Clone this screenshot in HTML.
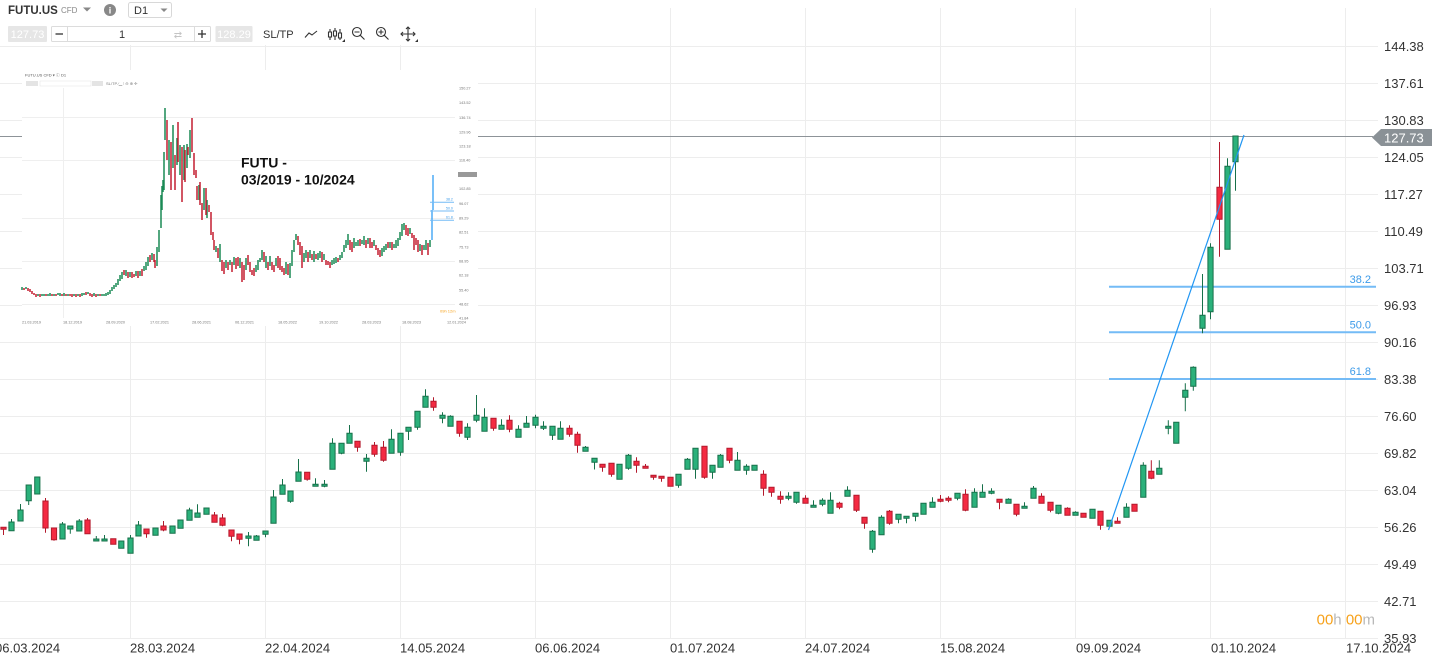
<!DOCTYPE html>
<html><head><meta charset="utf-8"><style>
html,body{margin:0;padding:0;background:#fff;width:1445px;height:660px;overflow:hidden}
svg{display:block;font-family:"Liberation Sans",Arial,sans-serif}
.gc path{fill:#2bb17b;stroke:#17704a;stroke-width:1}
.rc path{fill:#f42a42;stroke:#b3192c;stroke-width:1}
</style></head><body>
<svg width="1445" height="660" viewBox="0 0 1445 660" xmlns="http://www.w3.org/2000/svg">
<rect x="0" y="0" width="1445" height="660" fill="#fff"/>
<g stroke="#ededed" stroke-width="1">
<path d="M0 46.5H1378M0 83.5H1378M0 120.5H1378M0 157.5H1378M0 194.5H1378M0 231.5H1378M0 268.5H1378M0 305.5H1378M0 342.5H1378M0 379.5H1378M0 416.5H1378M0 453.5H1378M0 490.5H1378M0 527.5H1378M0 564.5H1378M0 601.5H1378M0 638.5H1378"/>
<path d="M130.5 8V639M265.5 8V639M400.5 8V639M535.5 8V639M670.5 8V639M805.5 8V639M940.5 8V639M1075.5 8V639M1210.5 8V639M1345.5 8V639"/>
</g>
<g stroke="#74bbf6" stroke-width="2">
<path d="M1109 286.7H1376M1109 332.3H1376M1109 379H1376"/>
</g>
<g fill="#3d9be9" font-size="11" text-anchor="end">
<text x="1371" y="283">38.2</text>
<text x="1371" y="328.5">50.0</text>
<text x="1371" y="375">61.8</text>
</g>
<path d="M0 136.5H1373" stroke="#8d9398" stroke-width="1"/>
<g class="rc">
<path transform="translate(3.5)" d="M0 527.3V527.3M0 529.3V535M-2.6 527.3h5.2V529.3h-5.2Z"/>
<path transform="translate(45.5)" d="M0 498V501M0 528V532.7M-2.6 501h5.2V528h-5.2Z"/>
<path transform="translate(54)" d="M0 539.7V540.7M-2.6 528h5.2V539.7h-5.2Z"/>
<path transform="translate(87.5)" d="M0 518V520M-2.6 520h5.2V533.7h-5.2Z"/>
<path transform="translate(113.3)" d="M-2.6 538.7h5.2V544.3h-5.2Z"/>
<path transform="translate(146.5)" d="M0 533.7V537.7M-2.6 529h5.2V533.7h-5.2Z"/>
<path transform="translate(163.5)" d="M0 521V526M0 530V531.3M-2.6 526h5.2V530h-5.2Z"/>
<path transform="translate(214.5)" d="M0 512V515M-2.6 515h5.2V522.3h-5.2Z"/>
<path transform="translate(222.5)" d="M0 514V518M0 525.3V526.3M-2.6 518h5.2V525.3h-5.2Z"/>
<path transform="translate(231.5)" d="M0 536.3V541.3M-2.6 530h5.2V536.3h-5.2Z"/>
<path transform="translate(239.5)" d="M0 539.3V544.3M-2.6 534h5.2V539.3h-5.2Z"/>
<path transform="translate(307.2)" d="M0 479.3V480.7M-2.6 472.3h5.2V479.3h-5.2Z"/>
<path transform="translate(357.5)" d="M0 447.3V451.7M-2.6 441.3h5.2V447.3h-5.2Z"/>
<path transform="translate(374.5)" d="M0 442V445.3M0 454.3V456.7M-2.6 445.3h5.2V454.3h-5.2Z"/>
<path transform="translate(383.5)" d="M0 441V447.3M0 460.3V461.7M-2.6 447.3h5.2V460.3h-5.2Z"/>
<path transform="translate(433.5)" d="M0 397.3V401.3M0 407.3V410.7M-2.6 401.3h5.2V407.3h-5.2Z"/>
<path transform="translate(459.5)" d="M0 433.3V436.7M-2.6 421.3h5.2V433.3h-5.2Z"/>
<path transform="translate(493.5)" d="M0 428.3V430.7M-2.6 418.3h5.2V428.3h-5.2Z"/>
<path transform="translate(509.5)" d="M0 415.3V420.3M0 429.3V432.3M-2.6 420.3h5.2V429.3h-5.2Z"/>
<path transform="translate(569.5)" d="M0 425.3V428.3M0 434.3V436.7M-2.6 428.3h5.2V434.3h-5.2Z"/>
<path transform="translate(577.5)" d="M0 431.7V434.3M0 445.3V452.7M-2.6 434.3h5.2V445.3h-5.2Z"/>
<path transform="translate(602.5)" d="M0 467.3V471.7M-2.6 464.3h5.2V467.3h-5.2Z"/>
<path transform="translate(611.5)" d="M0 474.3V476.7M-2.6 463.3h5.2V474.3h-5.2Z"/>
<path transform="translate(636.5)" d="M0 457.3V461.3M0 465.3V472.7M-2.6 461.3h5.2V465.3h-5.2Z"/>
<path transform="translate(645.5)" d="M0 464V466.3M-2.6 466.3h5.2V468.3h-5.2Z"/>
<path transform="translate(653.5)" d="M0 477.3V479.7M-2.6 475.3h5.2V477.3h-5.2Z"/>
<path transform="translate(661.5)" d="M0 478.3V481.7M-2.6 476.3h5.2V478.3h-5.2Z"/>
<path transform="translate(670.5)" d="M-2.6 477.3h5.2V486.3h-5.2Z"/>
<path transform="translate(704.5)" d="M0 477.3V478.7M-2.6 446.3h5.2V477.3h-5.2Z"/>
<path transform="translate(729.5)" d="M0 460.3V463.3M-2.6 448.3h5.2V460.3h-5.2Z"/>
<path transform="translate(763.5)" d="M0 470.3V474.3M0 488.3V495.7M-2.6 474.3h5.2V488.3h-5.2Z"/>
<path transform="translate(771.5)" d="M0 492.3V496.7M-2.6 487.3h5.2V492.3h-5.2Z"/>
<path transform="translate(780.5)" d="M0 491.3V496.3M0 499.3V503.7M-2.6 496.3h5.2V499.3h-5.2Z"/>
<path transform="translate(805.5)" d="M0 495.3V498.3M-2.6 498.3h5.2V503.3h-5.2Z"/>
<path transform="translate(839.5)" d="M0 501.7V503.3M0 507.3V509.3M-2.6 503.3h5.2V507.3h-5.2Z"/>
<path transform="translate(856.5)" d="M0 510.3V512M-2.6 495.3h5.2V510.3h-5.2Z"/>
<path transform="translate(864.5)" d="M0 523.3V528.7M-2.6 517.3h5.2V523.3h-5.2Z"/>
<path transform="translate(889.5)" d="M0 510V511.3M0 523.3V524.7M-2.6 511.3h5.2V523.3h-5.2Z"/>
<path transform="translate(940.5)" d="M0 495V499.3M0 501.3V502.3M-2.6 499.3h5.2V501.3h-5.2Z"/>
<path transform="translate(948.5)" d="M0 496.3V498.3M0 500.3V502.3M-2.6 498.3h5.2V500.3h-5.2Z"/>
<path transform="translate(965.5)" d="M0 489.3V494.3M0 510.3V511.3M-2.6 494.3h5.2V510.3h-5.2Z"/>
<path transform="translate(999.5)" d="M0 502.3V509.3M-2.6 499.3h5.2V502.3h-5.2Z"/>
<path transform="translate(1016.5)" d="M0 514.3V516.3M-2.6 504.3h5.2V514.3h-5.2Z"/>
<path transform="translate(1041.5)" d="M0 493.3V496.3M-2.6 496.3h5.2V503.3h-5.2Z"/>
<path transform="translate(1050.5)" d="M0 510.3V512.3M-2.6 502.3h5.2V510.3h-5.2Z"/>
<path transform="translate(1067.5)" d="M0 507.3V508.3M-2.6 508.3h5.2V515.3h-5.2Z"/>
<path transform="translate(1083.5)" d="M-2.6 513.3h5.2V517.3h-5.2Z"/>
<path transform="translate(1100.5)" d="M0 525.3V529.7M-2.6 511.3h5.2V525.3h-5.2Z"/>
<path transform="translate(1117.5)" d="M0 517.3V521.3M-2.6 521.3h5.2V523.3h-5.2Z"/>
<path transform="translate(1134.5)" d="M-2.6 504.3h5.2V511.3h-5.2Z"/>
<path transform="translate(1151.3)" d="M0 460.3V471.3M0 478.3V479.3M-2.6 471.3h5.2V478.3h-5.2Z"/>
<path transform="translate(1219.5)" d="M0 142V187.3M0 219.3V256.7M-2.6 187.3h5.2V219.3h-5.2Z"/>
</g>
<g class="gc">
<path transform="translate(11.5)" d="M0 519V522M-2.6 522h5.2V530.7h-5.2Z"/>
<path transform="translate(20.5)" d="M0 504V510M-2.6 510h5.2V521h-5.2Z"/>
<path transform="translate(28.7)" d="M0 500.7V505M-2.6 485h5.2V500.7h-5.2Z"/>
<path transform="translate(37.3)" d="M-2.6 477h5.2V494h-5.2Z"/>
<path transform="translate(62.5)" d="M0 522V524M-2.6 524h5.2V539h-5.2Z"/>
<path transform="translate(70.3)" d="M0 529V533.7M-2.6 526h5.2V529h-5.2Z"/>
<path transform="translate(79.3)" d="M0 519V521M-2.6 521h5.2V531h-5.2Z"/>
<path transform="translate(96.3)" d="M0 536V539M-2.6 539h5.2V541h-5.2Z"/>
<path transform="translate(104.5)" d="M0 535V539M-2.6 539h5.2V541h-5.2Z"/>
<path transform="translate(121.3)" d="M-2.6 541h5.2V548.3h-5.2Z"/>
<path transform="translate(130.5)" d="M0 535V538M-2.6 538h5.2V553.3h-5.2Z"/>
<path transform="translate(138.5)" d="M0 521V525M-2.6 525h5.2V536h-5.2Z"/>
<path transform="translate(155.5)" d="M-2.6 528h5.2V535.3h-5.2Z"/>
<path transform="translate(172.5)" d="M-2.6 526h5.2V533.3h-5.2Z"/>
<path transform="translate(180.5)" d="M-2.6 520h5.2V528.3h-5.2Z"/>
<path transform="translate(189.5)" d="M0 507.7V510M-2.6 510h5.2V520.3h-5.2Z"/>
<path transform="translate(197.5)" d="M0 504.3V513M-2.6 513h5.2V517.3h-5.2Z"/>
<path transform="translate(206.5)" d="M-2.6 508h5.2V514.3h-5.2Z"/>
<path transform="translate(248.5)" d="M0 532V536M0 538.3V546.3M-2.6 536h5.2V538.3h-5.2Z"/>
<path transform="translate(256.5)" d="M0 535V536M-2.6 536h5.2V540.3h-5.2Z"/>
<path transform="translate(265.5)" d="M0 534.3V537.3M-2.6 531h5.2V534.3h-5.2Z"/>
<path transform="translate(273.5)" d="M0 490V497M-2.6 497h5.2V523.3h-5.2Z"/>
<path transform="translate(282.5)" d="M0 479V485M-2.6 485h5.2V494.3h-5.2Z"/>
<path transform="translate(290.5)" d="M0 501.3V502.7M-2.6 491h5.2V501.3h-5.2Z"/>
<path transform="translate(298.5)" d="M0 459V472M-2.6 472h5.2V481.3h-5.2Z"/>
<path transform="translate(315.5)" d="M0 478.3V484.3M-2.6 484.3h5.2V486.3h-5.2Z"/>
<path transform="translate(324.5)" d="M0 480V484.3M0 486.3V487.3M-2.6 484.3h5.2V486.3h-5.2Z"/>
<path transform="translate(332.5)" d="M0 438.3V443.3M-2.6 443.3h5.2V469.3h-5.2Z"/>
<path transform="translate(341.5)" d="M0 453.3V454.3M-2.6 443.3h5.2V453.3h-5.2Z"/>
<path transform="translate(349.5)" d="M0 425V433.3M-2.6 433.3h5.2V443.3h-5.2Z"/>
<path transform="translate(366.5)" d="M0 454V458.3M0 461.3V471.7M-2.6 458.3h5.2V461.3h-5.2Z"/>
<path transform="translate(391.5)" d="M0 429.3V439.3M-2.6 439.3h5.2V453.3h-5.2Z"/>
<path transform="translate(400.5)" d="M0 452.3V455.7M-2.6 433.3h5.2V452.3h-5.2Z"/>
<path transform="translate(408.5)" d="M0 431.3V440M-2.6 427.3h5.2V431.3h-5.2Z"/>
<path transform="translate(417.5)" d="M0 427.3V429.7M-2.6 411.3h5.2V427.3h-5.2Z"/>
<path transform="translate(425.5)" d="M0 389.3V396.3M-2.6 396.3h5.2V407.3h-5.2Z"/>
<path transform="translate(442.5)" d="M0 412.3V415.3M0 418.3V423.3M-2.6 415.3h5.2V418.3h-5.2Z"/>
<path transform="translate(450.5)" d="M0 415.3V416.3M-2.6 416.3h5.2V426.3h-5.2Z"/>
<path transform="translate(467.5)" d="M0 423.3V427.3M0 437.3V440M-2.6 427.3h5.2V437.3h-5.2Z"/>
<path transform="translate(476.5)" d="M0 395V415.3M0 420.3V422.3M-2.6 415.3h5.2V420.3h-5.2Z"/>
<path transform="translate(484.5)" d="M0 408.3V417.3M-2.6 417.3h5.2V431.3h-5.2Z"/>
<path transform="translate(501.5)" d="M0 419.3V425.3M-2.6 425.3h5.2V429.3h-5.2Z"/>
<path transform="translate(518.5)" d="M0 425.3V429.3M-2.6 429.3h5.2V437.3h-5.2Z"/>
<path transform="translate(526.5)" d="M0 416V423.3M-2.6 423.3h5.2V427.3h-5.2Z"/>
<path transform="translate(535.5)" d="M0 414.7V417.3M0 425.3V428.3M-2.6 417.3h5.2V425.3h-5.2Z"/>
<path transform="translate(543.5)" d="M0 421.3V426.3M0 428.3V430M-2.6 426.3h5.2V428.3h-5.2Z"/>
<path transform="translate(552.5)" d="M0 435.3V440M-2.6 426.3h5.2V435.3h-5.2Z"/>
<path transform="translate(560.5)" d="M0 421.3V428.3M-2.6 428.3h5.2V439.3h-5.2Z"/>
<path transform="translate(585.5)" d="M0 446V447.3M-2.6 447.3h5.2V451.3h-5.2Z"/>
<path transform="translate(594.5)" d="M0 462.3V469.5M-2.6 458.3h5.2V462.3h-5.2Z"/>
<path transform="translate(619.5)" d="M-2.6 464.3h5.2V479.3h-5.2Z"/>
<path transform="translate(628.5)" d="M0 454V455.3M0 468.3V469.7M-2.6 455.3h5.2V468.3h-5.2Z"/>
<path transform="translate(678.5)" d="M0 485.3V487.7M-2.6 474.3h5.2V485.3h-5.2Z"/>
<path transform="translate(687.5)" d="M0 458V459.3M-2.6 459.3h5.2V469.3h-5.2Z"/>
<path transform="translate(695.5)" d="M0 469.3V478.7M-2.6 448.3h5.2V469.3h-5.2Z"/>
<path transform="translate(712.5)" d="M0 472.3V478.7M-2.6 465.3h5.2V472.3h-5.2Z"/>
<path transform="translate(720.5)" d="M0 454V455.3M-2.6 455.3h5.2V467.3h-5.2Z"/>
<path transform="translate(737.5)" d="M0 452V460.3M-2.6 460.3h5.2V470.3h-5.2Z"/>
<path transform="translate(746.5)" d="M0 464.3V466.3M0 470.3V474.7M-2.6 466.3h5.2V470.3h-5.2Z"/>
<path transform="translate(754.5)" d="M-2.6 465.3h5.2V470.3h-5.2Z"/>
<path transform="translate(788.5)" d="M0 492.3V496.3M0 498.3V500.3M-2.6 496.3h5.2V498.3h-5.2Z"/>
<path transform="translate(796.5)" d="M0 502.3V503.7M-2.6 492.3h5.2V502.3h-5.2Z"/>
<path transform="translate(813.5)" d="M0 500.3V505.3M-2.6 505.3h5.2V507.3h-5.2Z"/>
<path transform="translate(822.5)" d="M0 498.3V500.3M0 504.3V506.3M-2.6 500.3h5.2V504.3h-5.2Z"/>
<path transform="translate(830.5)" d="M0 492.3V500.3M-2.6 500.3h5.2V513.3h-5.2Z"/>
<path transform="translate(847.5)" d="M0 486.3V490.3M-2.6 490.3h5.2V496.3h-5.2Z"/>
<path transform="translate(872.5)" d="M0 530V531.3M0 549.3V552.7M-2.6 531.3h5.2V549.3h-5.2Z"/>
<path transform="translate(881.5)" d="M0 515.3V517.3M-2.6 517.3h5.2V534.7h-5.2Z"/>
<path transform="translate(898.5)" d="M0 519.3V523.3M-2.6 514.3h5.2V519.3h-5.2Z"/>
<path transform="translate(906.5)" d="M0 518.3V523.3M-2.6 516.3h5.2V518.3h-5.2Z"/>
<path transform="translate(915.5)" d="M0 516.3V521.3M-2.6 513.3h5.2V516.3h-5.2Z"/>
<path transform="translate(923.5)" d="M-2.6 503.3h5.2V514.3h-5.2Z"/>
<path transform="translate(932.5)" d="M0 497.3V502.3M-2.6 502.3h5.2V507.3h-5.2Z"/>
<path transform="translate(957.5)" d="M0 498.3V500.3M-2.6 493.3h5.2V498.3h-5.2Z"/>
<path transform="translate(974.5)" d="M0 488.3V492.3M-2.6 492.3h5.2V507.3h-5.2Z"/>
<path transform="translate(982.5)" d="M0 484.3V492.3M-2.6 492.3h5.2V497.3h-5.2Z"/>
<path transform="translate(991.5)" d="M0 488.3V491.3M0 493.3V494.3M-2.6 491.3h5.2V493.3h-5.2Z"/>
<path transform="translate(1008.5)" d="M0 498.3V499.3M-2.6 499.3h5.2V503.3h-5.2Z"/>
<path transform="translate(1024.5)" d="M0 502.3V506.3M-2.6 506.3h5.2V508.3h-5.2Z"/>
<path transform="translate(1033.5)" d="M0 486V488.3M-2.6 488.3h5.2V498.3h-5.2Z"/>
<path transform="translate(1058.5)" d="M0 513.3V514.3M-2.6 505.3h5.2V513.3h-5.2Z"/>
<path transform="translate(1075.5)" d="M0 511.3V512.3M-2.6 512.3h5.2V515.3h-5.2Z"/>
<path transform="translate(1092.5)" d="M-2.6 509.3h5.2V518.3h-5.2Z"/>
<path transform="translate(1109.5)" d="M-2.6 520.3h5.2V526.3h-5.2Z"/>
<path transform="translate(1126.5)" d="M0 503.3V507.3M-2.6 507.3h5.2V517.3h-5.2Z"/>
<path transform="translate(1143.3)" d="M0 462.3V465.3M-2.6 465.3h5.2V497.3h-5.2Z"/>
<path transform="translate(1159.3)" d="M0 460.3V468.3M-2.6 468.3h5.2V474.3h-5.2Z"/>
<path transform="translate(1168.3)" d="M0 420.3V426.3M0 428.3V434.3M-2.6 426.3h5.2V428.3h-5.2Z"/>
<path transform="translate(1176.3)" d="M-2.6 422.3h5.2V443.3h-5.2Z"/>
<path transform="translate(1185.3)" d="M0 383.3V390.3M0 397.3V411.3M-2.6 390.3h5.2V397.3h-5.2Z"/>
<path transform="translate(1193.3)" d="M0 366.3V367.3M0 386.3V390.7M-2.6 367.3h5.2V386.3h-5.2Z"/>
<path transform="translate(1202.5)" d="M0 274V315.3M0 328.3V333.3M-2.6 315.3h5.2V328.3h-5.2Z"/>
<path transform="translate(1210.5)" d="M0 243.3V247.3M0 311.7V319.3M-2.6 247.3h5.2V311.7h-5.2Z"/>
<path transform="translate(1227.5)" d="M0 158.3V166.3M-2.6 166.3h5.2V249.3h-5.2Z"/>
<path transform="translate(1235.5)" d="M0 161.7V190.7M-2.6 136h5.2V161.7h-5.2Z"/>
</g>
<path d="M1108.5 530L1244 135" stroke="#2196f3" stroke-width="1.2" fill="none"/>

<!-- inset -->
<rect x="22" y="70" width="456" height="256" fill="#fff"/>
<g stroke="#efefef" stroke-width="1">
<path d="M22 117.5H455M22 160.5H455M22 218.5H455M22 261.5H455M22 304.5H455"/>
<path d="M63.5 88V318"/>
</g>
<g font-size="4" fill="#555">
<text x="25" y="76.5">FUTU.US CFD ▾ ⓘ  D1</text>
</g>
<rect x="26" y="81" width="12" height="5" fill="#e4e4e4"/>
<rect x="40" y="81" width="51" height="5" fill="none" stroke="#e2e2e2" stroke-width="0.5"/>
<rect x="92" y="81" width="11" height="5" fill="#e4e4e4"/>
<g font-size="4" fill="#777"><text x="106" y="85">SL/TP  ⁄‿  ⫶  ⊖ ⊕ ✢</text></g>
<path stroke="#1a8a55" stroke-width="1.5" fill="none" d="M22 287V290M26 287V289M38 294V296M42 294V296M44 294V296M48 294V296M50 293V296M54 294V296M58 293V295M60 293V296M64 293V296M68 294V296M74 294V296M78 294V296M82 293V296M84 293V295M88 292V294M94 293V296M98 294V296M102 294V296M104 294V296M106 293V296M108 292V295M110 290V294M112 287V291M114 285V289M116 283V287M118 279V285M120 275V281M122 272V279M126 270V276M130 272V277M136 271V276M140 271V276M144 266V271M146 262V270M148 257V266M152 253V260M157 247V266M159 230V252M161 195V228M162 186V210M163 180V192M164 152V190M165 108V140M169 140V175M173 125V168M177 138V165M180 145V175M184 145V180M187 144V168M190 130V158M199 185V200M204 188V210M207 200V218M216 246V252M220 244V262M226 260V268M230 260V265M234 257V265M240 258V268M246 258V270M256 265V272M258 260V270M260 258V262M262 250V260M266 256V268M270 256V266M276 258V266M286 262V274M290 263V278M292 250V266M294 240V252M296 234V240M304 253V262M306 250V258M310 250V258M314 251V262M318 253V260M320 251V258M324 254V260M332 260V265M334 258V264M336 257V263M340 255V260M342 252V258M344 245V252M346 240V248M348 234V245M354 238V248M356 242V246M358 240V246M362 240V244M364 236V245M368 238V244M374 240V246M382 248V256M384 246V252M386 244V250M390 242V248M394 244V248M396 240V248M398 238V246M400 232V240M402 224V236M404 223V230M410 228V234M420 244V251M424 245V250M426 240V250M430 240V247"/>
<path stroke="#c41e30" stroke-width="1.5" fill="none" d="M24 288V290M28 288V291M30 289V292M32 291V294M34 293V295M36 294V297M40 294V297M46 294V296M52 294V296M56 294V296M62 294V296M66 294V296M70 294V296M72 294V297M76 294V297M80 294V297M86 292V295M90 293V296M92 294V297M96 294V297M100 294V296M124 270V275M128 272V278M132 272V278M134 274V277M138 271V278M142 269V276M150 255V262M154 254V262M155 260V268M167 120V160M171 142V190M175 155V190M178 122V162M182 147V202M185 150V182M188 147V155M192 118V152M194 153V175M196 170V178M197 186V200M200 182V205M202 203V220M206 188V215M209 205V212M211 212V235M213 232V240M214 240V250M218 248V258M222 260V271M224 262V274M228 262V270M232 262V272M236 258V269M238 257V266M242 262V282M244 265V280M248 255V265M250 262V272M252 270V275M254 268V276M264 252V262M268 262V270M272 262V270M274 265V272M278 256V268M280 258V270M282 266V272M284 268V275M288 264V275M298 236V245M300 242V255M302 246V268M308 252V262M312 254V260M316 254V259M322 252V262M326 260V265M328 261V265M330 262V268M338 258V262M350 240V250M352 242V252M360 239V246M366 240V248M370 238V248M372 242V248M376 245V250M378 248V255M380 250V257M388 242V248M392 242V250M406 225V235M408 228V236M412 233V238M414 235V250M416 238V245M418 240V252M422 245V255M428 243V255"/>
<path stroke="#2196f3" stroke-width="1.2" fill="none" d="M432 210V240M433 175V210"/>
<path stroke="#74bbf6" stroke-width="1" d="M430 202.3H454M430 211H454M430 220.3H454"/>
<g font-size="3.5" fill="#3d9be9"><text x="446" y="200.5">38.2</text><text x="446" y="209.5">50.0</text><text x="446" y="218.5">61.8</text></g>
<rect x="458" y="172" width="19" height="5" fill="#999"/>
<g font-size="3.8" fill="#777">
<text x="459" y="89.5">150.27</text><text x="459" y="104">143.52</text><text x="459" y="119">136.74</text><text x="459" y="133.5">129.96</text><text x="459" y="147.5">123.18</text><text x="459" y="161.5">116.40</text><text x="459" y="190">102.85</text><text x="459" y="205">96.07</text><text x="459" y="219.5">89.29</text><text x="459" y="233.5">82.51</text><text x="459" y="248.5">75.73</text><text x="459" y="262.5">68.95</text><text x="459" y="276.5">62.18</text><text x="459" y="291.5">55.40</text><text x="459" y="305.5">48.62</text><text x="459" y="319.5">41.84</text>
</g>
<g font-size="3.8" fill="#777">
<text x="22" y="323.5">21.03.2019</text><text x="63" y="323.5">18.12.2019</text><text x="106" y="323.5">28.09.2020</text><text x="150" y="323.5">17.02.2021</text><text x="192" y="323.5">28.06.2021</text><text x="235" y="323.5">06.12.2021</text><text x="278" y="323.5">18.05.2022</text><text x="319" y="323.5">19.10.2022</text><text x="362" y="323.5">28.03.2023</text><text x="402" y="323.5">18.08.2023</text><text x="447" y="323.5">12.01.2024</text>
</g>
<g font-size="4" fill="#f7a21b"><text x="440" y="312.5">09h 12m</text></g>
<g font-family="Liberation Sans,Arial,sans-serif" font-weight="bold" font-size="14" fill="#111">
<text x="241" y="167.5">FUTU -</text>
<text x="241" y="184.5">03/2019 - 10/2024</text>
</g>

<!-- y axis labels -->
<g font-size="13" fill="#333">
<text x="1384" y="51">144.38</text>
<text x="1384" y="88">137.61</text>
<text x="1384" y="125">130.83</text>
<text x="1384" y="162">124.05</text>
<text x="1384" y="199">117.27</text>
<text x="1384" y="236">110.49</text>
<text x="1384" y="273">103.71</text>
<text x="1384" y="310">96.93</text>
<text x="1384" y="347">90.16</text>
<text x="1384" y="384">83.38</text>
<text x="1384" y="421">76.60</text>
<text x="1384" y="458">69.82</text>
<text x="1384" y="495">63.04</text>
<text x="1384" y="532">56.26</text>
<text x="1384" y="569">49.49</text>
<text x="1384" y="606">42.71</text>
<text x="1384" y="643">35.93</text>
</g>
<path d="M1372 137.5L1381 129H1432V146H1381Z" fill="#8a9196"/>
<text x="1384" y="142.5" font-size="13" fill="#fff">127.73</text>
<!-- x axis labels -->
<g font-size="13" fill="#333">
<text x="-5" y="652.5">06.03.2024</text>
<text x="130" y="652.5">28.03.2024</text>
<text x="265" y="652.5">22.04.2024</text>
<text x="400" y="652.5">14.05.2024</text>
<text x="535" y="652.5">06.06.2024</text>
<text x="670" y="652.5">01.07.2024</text>
<text x="805" y="652.5">24.07.2024</text>
<text x="940" y="652.5">15.08.2024</text>
<text x="1076" y="652.5">09.09.2024</text>
<text x="1211" y="652.5">01.10.2024</text>
<text x="1346" y="652.5">17.10.2024</text>
</g>
<text x="1375" y="624.5" font-size="15" text-anchor="end"><tspan fill="#f7a21b">00</tspan><tspan fill="#b8b8b8">h </tspan><tspan fill="#f7a21b">00</tspan><tspan fill="#b8b8b8">m</tspan></text>

<!-- toolbar -->
<rect x="0" y="0" width="420" height="24" fill="#fff"/>
<rect x="0" y="24" width="420" height="21" fill="#fff"/>
<text x="8" y="14" font-size="11.5" font-weight="bold" fill="#333">FUTU.US</text>
<text x="61" y="13" font-size="8" fill="#888">CFD</text>
<path d="M83 7.5H91L87 11.5Z" fill="#888"/>
<circle cx="110" cy="10" r="6" fill="#888"/>
<text x="110" y="13.5" font-size="9" font-weight="bold" fill="#fff" text-anchor="middle">i</text>
<rect x="128.5" y="2.5" width="43" height="15" fill="#fff" stroke="#d8d8d8" rx="2"/>
<text x="134" y="14" font-size="11" fill="#333">D1</text>
<path d="M160.5 8.5H167.5L164 12Z" fill="#888"/>
<rect x="8" y="26" width="39" height="16" fill="#e6e6e6" rx="1"/>
<text x="27.5" y="38" font-size="11" fill="#fff" text-anchor="middle">127.73</text>
<rect x="51.5" y="26.5" width="159" height="15" fill="#fff" stroke="#dcdcdc" rx="1"/>
<path d="M67.5 27V41M194.5 27V41" stroke="#dcdcdc"/>
<path d="M55.5 34H63" stroke="#333" stroke-width="1.3"/>
<text x="122" y="38" font-size="11" fill="#333" text-anchor="middle">1</text>
<text x="178" y="38" font-size="10" fill="#c4c4c4" text-anchor="middle">⇄</text>
<path d="M198 34H206M202 30V38" stroke="#333" stroke-width="1.3"/>
<rect x="215.5" y="26" width="37" height="16" fill="#e6e6e6" rx="1"/>
<text x="234" y="38" font-size="11" fill="#fff" text-anchor="middle">128.29</text>
<text x="263" y="38" font-size="11" fill="#333">SL/TP</text>
<g stroke="#333" stroke-width="1.1" fill="none">
<path d="M305 37.5L309 33L312 35L317 31"/>
<path d="M330 29V40M335 28V40M340 29V40"/>
<path d="M328.5 32h3v5h-3zM333.5 31h3v5h-3zM338.5 33h3v5h-3z" fill="#fff"/>
<circle cx="357" cy="32" r="4.5"/>
<path d="M360.3 35.3L364.5 39.5M354.5 32H359.5"/>
<circle cx="381" cy="32" r="4.5"/>
<path d="M384.3 35.3L388.5 39.5M378.5 32H383.5M381 29.5V34.5"/>
<path d="M408 27V41M401 34H415M406 29L408 27L410 29M406 39L408 41L410 39M403 32L401 34L403 36M413 32L415 34L413 36"/>
</g>
<path d="M342 42H345V39Z M415 42H418V39Z" fill="#333"/>
</svg>
</body></html>
